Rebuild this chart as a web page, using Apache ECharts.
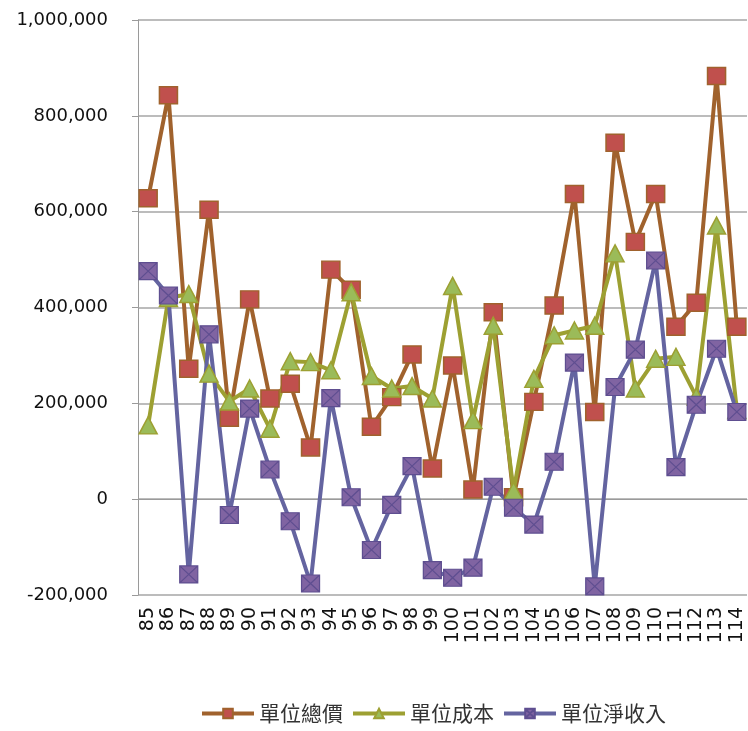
<!DOCTYPE html>
<html><head><meta charset="utf-8">
<script src="https://cdn.jsdelivr.net/npm/echarts@6/dist/echarts.min.js"></script>
<style>html,body{margin:0;padding:0;background:#fff}#c{width:748px;height:731px}</style>
</head><body><div id="c"></div>
<script>
const categories = ['85','86','87','88','89','90','91','92','93','94','95','96','97','98','99','100','101','102','103','104','105','106','107','108','109','110','111','112','113','114'];
const totalPrice = [628000,843000,272000,604000,170000,417000,210000,241000,108000,479000,437000,151000,213000,302000,64000,279000,20000,390000,4000,203000,404000,637000,182000,744000,537000,637000,360000,410000,883000,360000];
const unitCost = [154000,420000,428000,262000,204000,231000,147000,288000,286000,269000,432000,257000,231000,236000,210000,445000,165000,362000,17000,251000,342000,352000,362000,513000,231000,293000,297000,214000,571000,186000];
const netIncome = [476000,425000,-157000,344000,-33000,189000,62000,-46000,-176000,211000,4000,-106000,-12000,69000,-148000,-164000,-143000,26000,-18000,-53000,78000,285000,-182000,234000,312000,498000,67000,197000,314000,182000];
const yTicks = {min:-200000, max:1000000, interval:200000};
const seriesNames = ['單位總價','單位成本','單位淨收入'];

const chart = echarts.init(document.getElementById('c'), null, {renderer:'canvas'});
const fmt = v => v.toLocaleString('en-US');
const crossSquare = 'path://M0,0 L10,0 L10,10 L0,10 Z M0,0 L10,10 M10,0 L0,10';
chart.setOption({
  animation:false,
  grid:{left:138, right:1, top:20, bottom:136},
  legend:{
    top:703, left:200, padding:0, itemWidth:52, itemHeight:12, itemGap:8,
    lineStyle:{width:4},
    textStyle:{fontFamily:'"Noto Sans CJK TC"', fontSize:21, color:'#333'},
    data:seriesNames
  },
  xAxis:{
    type:'category', data:categories, boundaryGap:true,
    axisLine:{lineStyle:{color:'#9a9a9a', width:1}},
    axisTick:{show:false},
    axisLabel:{rotate:90, interval:0, color:'#111', fontFamily:'DejaVu Sans', fontSize:19, margin:12}
  },
  yAxis:{
    type:'value', min:yTicks.min, max:yTicks.max, interval:yTicks.interval,
    axisLine:{show:true, lineStyle:{color:'#9a9a9a', width:1}},
    axisTick:{show:true, length:6, lineStyle:{color:'#9a9a9a'}},
    splitLine:{lineStyle:{color:'#a6a6a6', width:1.5}},
    axisLabel:{formatter:fmt, color:'#111', fontFamily:'DejaVu Sans', fontSize:18, margin:30}
  },
  series:[
    {name:seriesNames[0], type:'line', data:totalPrice, symbol:'rect', symbolSize:[18,17],
     lineStyle:{color:'#A0622D', width:4}, itemStyle:{color:'#C0504D', borderColor:'#A0622D', borderWidth:1.5}},
    {name:seriesNames[1], type:'line', data:unitCost, symbol:'triangle', symbolSize:[18,17],
     lineStyle:{color:'#9DA032', width:4}, itemStyle:{color:'#9BBB59', borderColor:'#9DA032', borderWidth:1.5}},
    {name:seriesNames[2], type:'line', data:netIncome, symbol:crossSquare, symbolSize:[18,17],
     lineStyle:{color:'#6464A0', width:4}, itemStyle:{color:'#8064A2', borderColor:'#5E4E90', borderWidth:1.2}}
  ]
});
</script></body></html>
